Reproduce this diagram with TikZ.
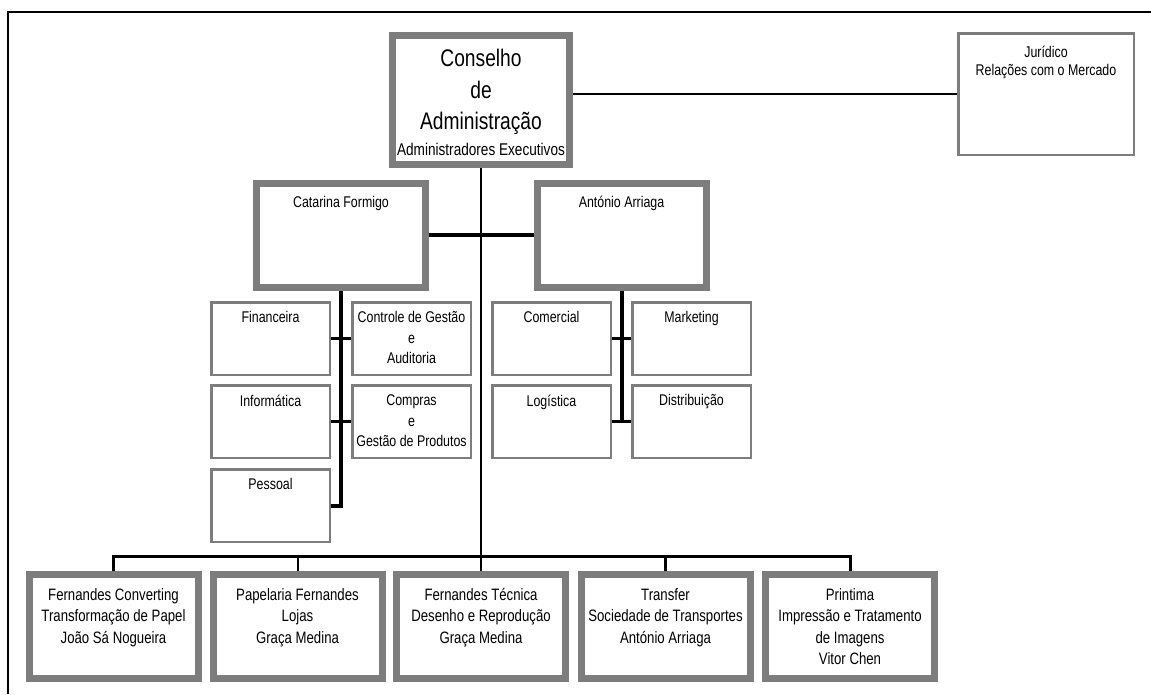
\documentclass[tikz,border=0pt]{standalone}
\usepackage{fontspec}
\setmainfont{Liberation Sans}[FakeStretch=0.8]
\usepackage{tikz}
\usetikzlibrary{positioning}
\definecolor{boxgray}{RGB}{125,125,125}

\begin{document}
\begin{tikzpicture}[x=1pt,y=-1pt]

\tikzstyle{bigbox}=[draw=boxgray,line width=7pt,inner sep=0pt,minimum width=169pt,minimum height=104pt]
\tikzstyle{smallbox}=[draw=boxgray,line width=2.5pt,inner sep=0pt,minimum width=118.5pt,minimum height=72.5pt]
\tikzstyle{txt}=[anchor=north,align=center,inner sep=0pt,font=\fontsize{15.5}{20.5}\selectfont]
\tikzstyle{btxt}=[anchor=north,align=center,inner sep=0pt,yshift=-17pt,font=\fontsize{16.5}{21.5}\selectfont]
\tikzstyle{link}=[line width=2pt]
\tikzstyle{blink}=[line width=3.5pt]

\useasboundingbox (0,0) rectangle (1151,694);
\fill[white] (0,0) rectangle (1151,694);
\draw[line width=2pt] (8,694) -- (8,12) -- (1151,12);

% board and staff
\node (conselho) [bigbox,minimum width=177pt,minimum height=129pt,label={[txt,yshift=-17pt,font=\fontsize{24}{31.5}\selectfont]north:{Conselho\\de\\Administração\\[-6pt]{\fontsize{17}{20}\selectfont Administradores Executivos}}}] at (481,100) {};
\node (juridico) [draw=boxgray,line width=2.5pt,inner sep=0pt,minimum width=175.5pt,minimum height=121.5pt,label={[txt,yshift=-13.5pt,font=\fontsize{15.5}{18.5}\selectfont]north:{Jurídico\\Relações com o Mercado}}] at (1046,94) {};

\node (catarina) [bigbox,label={[txt,yshift=-16.5pt]north:Catarina Formigo}] at (341,235) {};
\node (antonio) [bigbox,label={[txt,yshift=-16.5pt]north:António Arriaga}] at (621.5,235) {};

% departments
\node (financeira) [smallbox,label={[txt,yshift=-10.5pt]north:Financeira}] at (270.5,338.5) {};
\node (controle) [smallbox,label={[txt,yshift=-10.5pt]north:{Controle de Gestão\\e\\Auditoria}}] at (411.5,338.5) {};
\node (informatica) [smallbox,label={[txt,yshift=-10.5pt]north:Informática}] at (270.5,421.5) {};
\node (compras) [smallbox,label={[txt,yshift=-10.5pt]north:{Compras\\e\\Gestão de Produtos}}] at (411.5,421.5) {};
\node (pessoal) [smallbox,label={[txt,yshift=-10.5pt]north:Pessoal}] at (270.5,505.5) {};
\node (comercial) [smallbox,label={[txt,yshift=-10.5pt]north:Comercial}] at (551.5,338.5) {};
\node (marketing) [smallbox,label={[txt,yshift=-10.5pt]north:Marketing}] at (691.5,338.5) {};
\node (logistica) [smallbox,label={[txt,yshift=-10.5pt]north:Logística}] at (551.5,421.5) {};
\node (distribuicao) [smallbox,label={[txt,yshift=-10.5pt]north:Distribuição}] at (691.5,421.5) {};

% companies
\node (converting) [bigbox,label={[btxt]north:{Fernandes Converting\\Transformação de Papel\\João Sá Nogueira}}] at (113.5,626.5) {};
\node (papelaria) [bigbox,label={[btxt]north:{Papelaria Fernandes\\Lojas\\Graça Medina}}] at (297.5,626.5) {};
\node (tecnica) [bigbox,label={[btxt]north:{Fernandes Técnica\\Desenho e Reprodução\\Graça Medina}}] at (481,626.5) {};
\node (transfer) [bigbox,label={[btxt]north:{Transfer\\Sociedade de Transportes\\António Arriaga}}] at (665.5,626.5) {};
\node (printima) [bigbox,label={[btxt]north:{Printima\\Impressão e Tratamento\\de Imagens\\Vitor Chen}}] at (850,626.5) {};

\draw[link] (juridico.west) -- (juridico.west -| conselho.east);
\draw[link] (conselho.south) -- (tecnica.north);
\draw[blink] (catarina.east) -- (antonio.west);

\draw[line width=4pt] (catarina.south) |- (pessoal.east);
\draw[blink] (financeira.east) -- (controle.west);
\draw[blink] (informatica.east) -- (compras.west);
\draw[line width=4pt] (antonio.south) -- (antonio.south |- logistica.east);
\draw[blink] (comercial.east) -- (marketing.west);
\draw[blink] (logistica.east) -- (distribuicao.west);

\draw[line width=3pt] (converting.north) -- ++(0,-15) -| (printima.north);
\draw[link] (papelaria.north) -- ++(0,-15);
\draw[line width=3.5pt] (transfer.north) -- ++(0,-15);

\end{tikzpicture}
\end{document}
